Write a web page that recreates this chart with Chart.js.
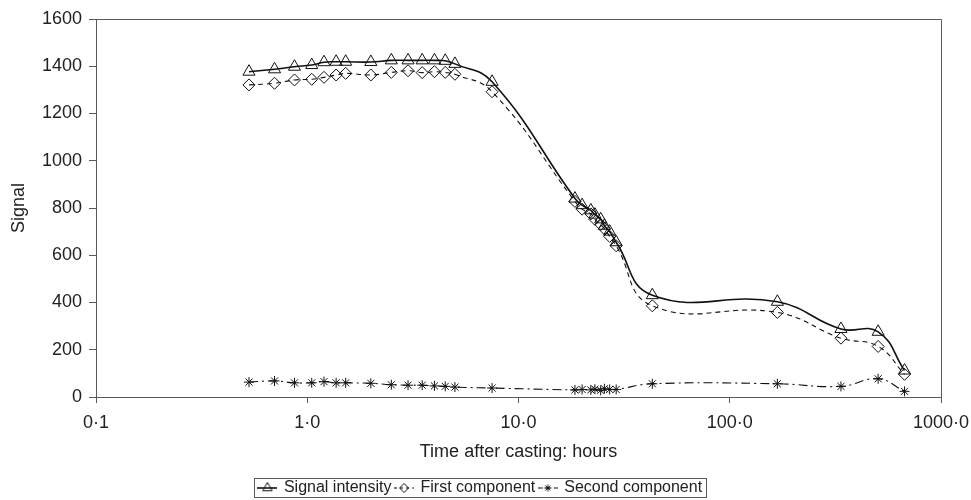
<!DOCTYPE html>
<html>
<head>
<meta charset="utf-8">
<script src="https://cdn.jsdelivr.net/npm/chart.js@4.4.1/dist/chart.umd.min.js"></script>
<style>
html,body{margin:0;padding:0;background:#fff;}
#wrap{width:971px;height:500px;position:relative;}
</style>
</head>
<body>
<div id="wrap"><canvas id="c" width="971" height="500"></canvas></div>
<script>
// ---- data ----
const timesHours = [0.53, 0.7, 0.87, 1.05, 1.2, 1.37, 1.52, 2, 2.5, 3, 3.5, 4, 4.5, 5, 7.5,
                    18.5, 20, 22, 23, 24.5, 25.5, 27, 29, 43, 168, 336, 504, 672];
const signalIntensity = [1377, 1387, 1398, 1405, 1417, 1419, 1419, 1418, 1425, 1425, 1425, 1425, 1423, 1410, 1334,
                         840, 812, 790, 772, 752, 725, 700, 655, 431, 403, 288, 276, 112];
const firstComponent = [1321, 1328, 1342, 1345, 1353, 1363, 1370, 1363, 1374, 1381, 1373, 1377, 1374, 1366, 1292,
                        828, 795, 775, 752, 730, 712, 680, 640, 386, 358, 249, 214, 96];
const secondComponent = [63, 68, 60, 60, 65, 60, 60, 58, 52, 50, 50, 47, 45, 42, 38,
                         30, 32, 30, 33, 28, 35, 32, 32, 56, 56, 45, 77, 24];
const seriesNames = ['Signal intensity', 'First component', 'Second component'];
const xTickValues = [0.1, 1, 10, 100, 1000];
const xTickLabels = ['0·1', '1·0', '10·0', '100·0', '1000·0'];
const yTickValues = [0, 200, 400, 600, 800, 1000, 1200, 1400, 1600];
const xTitle = 'Time after casting: hours';
const yTitle = 'Signal';

// ---- styles ----
const FONT = "'Liberation Sans', Arial, sans-serif";
const TXT = '#222';
const AX = '#5a5a5a';
const styles = [
  {pointStyle: 'triangle', radius: 7, dash: [], width: 1.6},
  {pointStyle: 'rectRot', radius: 6, dash: [5, 4], width: 1.1},
  {pointStyle: 'star', radius: 5, dash: [9, 4, 2, 4], width: 1.1}
];

function legendSymbol(i) {
  const s = styles[i];
  const cv = document.createElement('canvas');
  cv.width = 20; cv.height = 16;
  const ctx = cv.getContext('2d');
  ctx.strokeStyle = '#111';
  ctx.lineWidth = s.width;
  ctx.setLineDash(i === 1 ? [3, 3] : (i === 2 ? [5, 3] : []));
  ctx.beginPath(); ctx.moveTo(0, 8); ctx.lineTo(20, 8); ctx.stroke();
  ctx.setLineDash([]);
  ctx.lineWidth = 1;
  ctx.fillStyle = 'rgba(0,0,0,0)';
  Chart.helpers.drawPoint(ctx, {pointStyle: s.pointStyle, radius: s.radius - 1.5, rotation: 0, borderWidth: 1}, 10, 8);
  return cv;
}

const seriesValues = [signalIntensity, firstComponent, secondComponent];
const datasets = seriesValues.map((vals, i) => ({
  label: seriesNames[i],
  data: timesHours.map((t, k) => ({x: t, y: vals[k]})),
  borderColor: '#111',
  borderWidth: styles[i].width,
  borderDash: styles[i].dash,
  backgroundColor: 'rgba(0,0,0,0)',
  pointStyle: styles[i].pointStyle,
  pointRadius: styles[i].radius,
  pointBorderColor: '#111',
  pointBackgroundColor: 'rgba(0,0,0,0)',
  pointBorderWidth: 1,
  tension: 0.45,
  fill: false
}));

const LEGEND_DY = 6;
const LEGEND_DX = 10;
const framePlugin = {
  id: 'frame',
  afterUpdate(chart) {
    const lg = chart.legend;
    if (!lg) return;
    lg.top += LEGEND_DY; lg.bottom += LEGEND_DY;
    lg.left += LEGEND_DX; lg.right += LEGEND_DX;
    (lg.legendHitBoxes || []).forEach(h => { h.top += LEGEND_DY; h.left += LEGEND_DX; });
  },
  afterDatasetsDraw(chart) {
    const {ctx, chartArea: a} = chart;
    ctx.save();
    ctx.strokeStyle = AX; ctx.lineWidth = 1;
    ctx.beginPath();
    ctx.moveTo(Math.round(a.left) + 0.5, Math.round(a.top) + 0.5);
    ctx.lineTo(Math.round(a.right) + 0.5, Math.round(a.top) + 0.5);
    ctx.lineTo(Math.round(a.right) + 0.5, Math.round(a.bottom) + 0.5);
    ctx.stroke();
    ctx.restore();
  },
  afterDraw(chart) {
    const lg = chart.legend;
    if (!lg || !lg.legendHitBoxes || !lg.legendHitBoxes.length) return;
    const hb = lg.legendHitBoxes;
    let l = Infinity, r = -Infinity, t = Infinity, b = -Infinity;
    hb.forEach(h => { l = Math.min(l, h.left); r = Math.max(r, h.left + h.width); t = Math.min(t, h.top); b = Math.max(b, h.top + h.height); });
    const ctx = chart.ctx;
    ctx.save();
    ctx.strokeStyle = AX; ctx.lineWidth = 1;
    ctx.strokeRect(Math.round(l - 5) + 0.5, Math.round(t - 2) + 0.5, Math.round(r - l + 9), Math.round(b - t + 3));
    ctx.restore();
  }
};

new Chart(document.getElementById('c'), {
  type: 'line',
  data: {datasets},
  plugins: [framePlugin],
  options: {
    responsive: false,
    animation: false,
    devicePixelRatio: 1,
    layout: {padding: {top: 19, right: 30, left: 0, bottom: 0}},
    plugins: {
      tooltip: {enabled: false},
      legend: {
        display: true,
        position: 'bottom',
        labels: {
          usePointStyle: true,
          pointStyleWidth: 17,
          padding: 4,
          color: TXT,
          font: {family: FONT, size: 16},
          generateLabels: (chart) => seriesNames.map((n, i) => ({
            text: n, pointStyle: legendSymbol(i), datasetIndex: i,
            fillStyle: 'rgba(0,0,0,0)', strokeStyle: '#111', lineWidth: 0, hidden: false, fontColor: TXT
          }))
        }
      }
    },
    scales: {
      x: {
        type: 'logarithmic',
        min: 0.1, max: 1000,
        afterBuildTicks: (scale) => { scale.ticks = xTickValues.map(v => ({value: v})); },
        afterFit: (scale) => { scale.height = 73; scale.paddingLeft = 0; scale.paddingRight = 0; },
        ticks: {
          autoSkip: false, maxRotation: 0, padding: 9, color: TXT,
          font: {family: FONT, size: 18},
          callback: (v) => {
            const i = xTickValues.findIndex(tv => Math.abs(Math.log10(tv) - Math.log10(v)) < 1e-6);
            return i >= 0 ? xTickLabels[i] : '';
          }
        },
        grid: {display: true, drawOnChartArea: false, drawTicks: true, tickLength: 6, color: AX},
        border: {display: true, color: AX, width: 1},
        title: {display: true, text: xTitle, color: TXT, font: {family: FONT, size: 18}, padding: {top: 4, bottom: 7}}
      },
      y: {
        min: 0, max: 1600,
        afterBuildTicks: (scale) => { scale.ticks = yTickValues.map(v => ({value: v})); },
        afterFit: (scale) => { scale.width = 96; scale.paddingTop = 0; scale.paddingBottom = 0; },
        ticks: {padding: 7, color: TXT, font: {family: FONT, size: 18}, callback: (v) => String(v)},
        grid: {display: true, drawOnChartArea: false, drawTicks: true, tickLength: 7, color: AX},
        border: {display: true, color: AX, width: 1},
        title: {display: true, text: yTitle, color: TXT, font: {family: FONT, size: 18}, padding: {top: 8, bottom: 0}}
      }
    }
  }
});
</script>
</body>
</html>
